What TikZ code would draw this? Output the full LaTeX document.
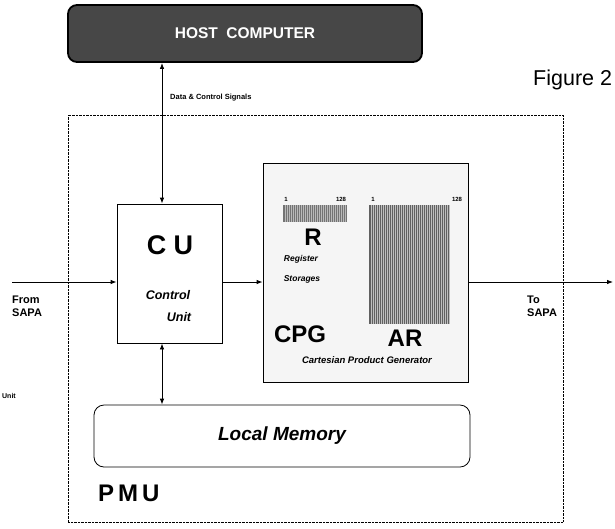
\documentclass[tikz,border=0pt]{standalone}
\usepackage{fontspec}
\setmainfont{Liberation Sans}
\usetikzlibrary{arrows.meta}
\begin{document}
\begin{tikzpicture}[
  x=1pt, y=-1pt,
  blk/.style={draw, thick, inner sep=0pt},
  conn/.style={thick, -{Latex[length=6pt,width=4.5pt]}},
  biconn/.style={thick, {Latex[length=6pt,width=4.5pt]}-{Latex[length=6pt,width=4.5pt]}},
  lbl/.style={font=\bfseries\fontsize{11}{13}\selectfont, align=left, inner sep=0pt, anchor=north west},
  big/.style={font=\bfseries\fontsize{24}{26}\selectfont, inner sep=0pt},
  tiny/.style={font=\bfseries\fontsize{6}{7}\selectfont, inner sep=0pt}
]
  \useasboundingbox (0,0) rectangle (615,528);
  \node[blk, rounded corners=9pt, fill=black!72, line width=1.8pt, minimum width=354pt, minimum height=57pt,
        text=white, font=\bfseries\fontsize{15.5}{18}\selectfont] (host) at (245,33.5) {HOST\ \ COMPUTER};
  \node[anchor=base west, inner sep=0pt, font=\fontsize{21.5}{24}\selectfont] (fig) at (533,85) {Figure 2};
  \node[anchor=west, inner sep=0pt, font=\bfseries\fontsize{7.5}{9}\selectfont] (sig) at (170,98) {Data \& Control Signals};

  \node[draw, densely dotted, minimum width=495pt, minimum height=407pt] (pmu) at (315.5,318.5) {};
  \node[big, anchor=west] (pmulbl) at (98,493) {P\,M\,U};

  \node[blk, fill=white, minimum width=105pt, minimum height=139pt] (cu) at (169.5,273.5) {};
  \node[big, font=\bfseries\fontsize{27}{29}\selectfont] (culbl) at (170,245) {C\ U};
  \node[inner sep=0pt, font=\bfseries\itshape\fontsize{12.5}{15}\selectfont] (cuctl) at (168,295) {Control};
  \node[inner sep=0pt, font=\bfseries\itshape\fontsize{12.5}{15}\selectfont] (cuunit) at (179,317) {Unit};

  \node[blk, fill=gray!8, minimum width=205pt, minimum height=219pt] (cpg) at (365.5,272.5) {};
  \node[fill=black!55, minimum width=64pt, minimum height=17pt, inner sep=0pt] (rbar) at (315,213.5) {};
  \node[fill=black!62, minimum width=81pt, minimum height=119pt, inner sep=0pt] (ar) at (409.5,264.5) {};
  \foreach \x in {285,287,...,346} \draw[gray!55, line width=0.4pt] (\x,205) -- (\x,222);
  \foreach \x in {371,373,...,449} \draw[gray!50, line width=0.4pt] (\x,205) -- (\x,324);
  \node[tiny] (r1) at (286,199) {1};
  \node[tiny] (r128) at (341,199) {128};
  \node[tiny] (a1) at (373,199) {1};
  \node[tiny] (a128) at (457,199) {128};
  \node[big] (rlbl) at (313,237) {R};
  \node[inner sep=0pt, font=\bfseries\itshape\fontsize{8.5}{10}\selectfont] (reg) at (301,259) {Register};
  \node[inner sep=0pt, font=\bfseries\itshape\fontsize{8.5}{10}\selectfont] (sto) at (302,279) {Storages};
  \node[big] (cpglbl) at (300,334) {CPG};
  \node[big] (arlbl) at (405,338) {AR};
  \node[inner sep=0pt, font=\bfseries\itshape\fontsize{9.5}{11}\selectfont] (cart) at (367,360) {Cartesian Product Generator};

  \node[blk, rounded corners=10pt, minimum width=376pt, minimum height=62pt,
        font=\bfseries\itshape\fontsize{19}{24}\selectfont] (mem) at (282,436) {Local Memory};

  \coordinate (fromsapa) at (12,282);
  \coordinate (tosapa) at (613,282);
  \coordinate (axis) at (162,282);
  \node[lbl] (fromlbl) at (12,296) {From\\SAPA};
  \node[lbl] (tolbl) at (527,296) {To\\SAPA};
  \node[anchor=east, inner sep=0pt, font=\bfseries\fontsize{7}{8}\selectfont] (unit) at (16,396) {Unit};

  \draw[conn] (fromsapa) -- (fromsapa -| cu.west);
  \draw[conn] (cu.east |- fromsapa) -- (cpg.west |- fromsapa);
  \draw[conn] (cpg.east |- fromsapa) -- (tosapa);
  \draw[biconn] (cu.north -| axis) -- (host.south -| axis);
  \draw[biconn] (cu.south -| axis) -- (mem.north -| axis);
\end{tikzpicture}
\end{document}
